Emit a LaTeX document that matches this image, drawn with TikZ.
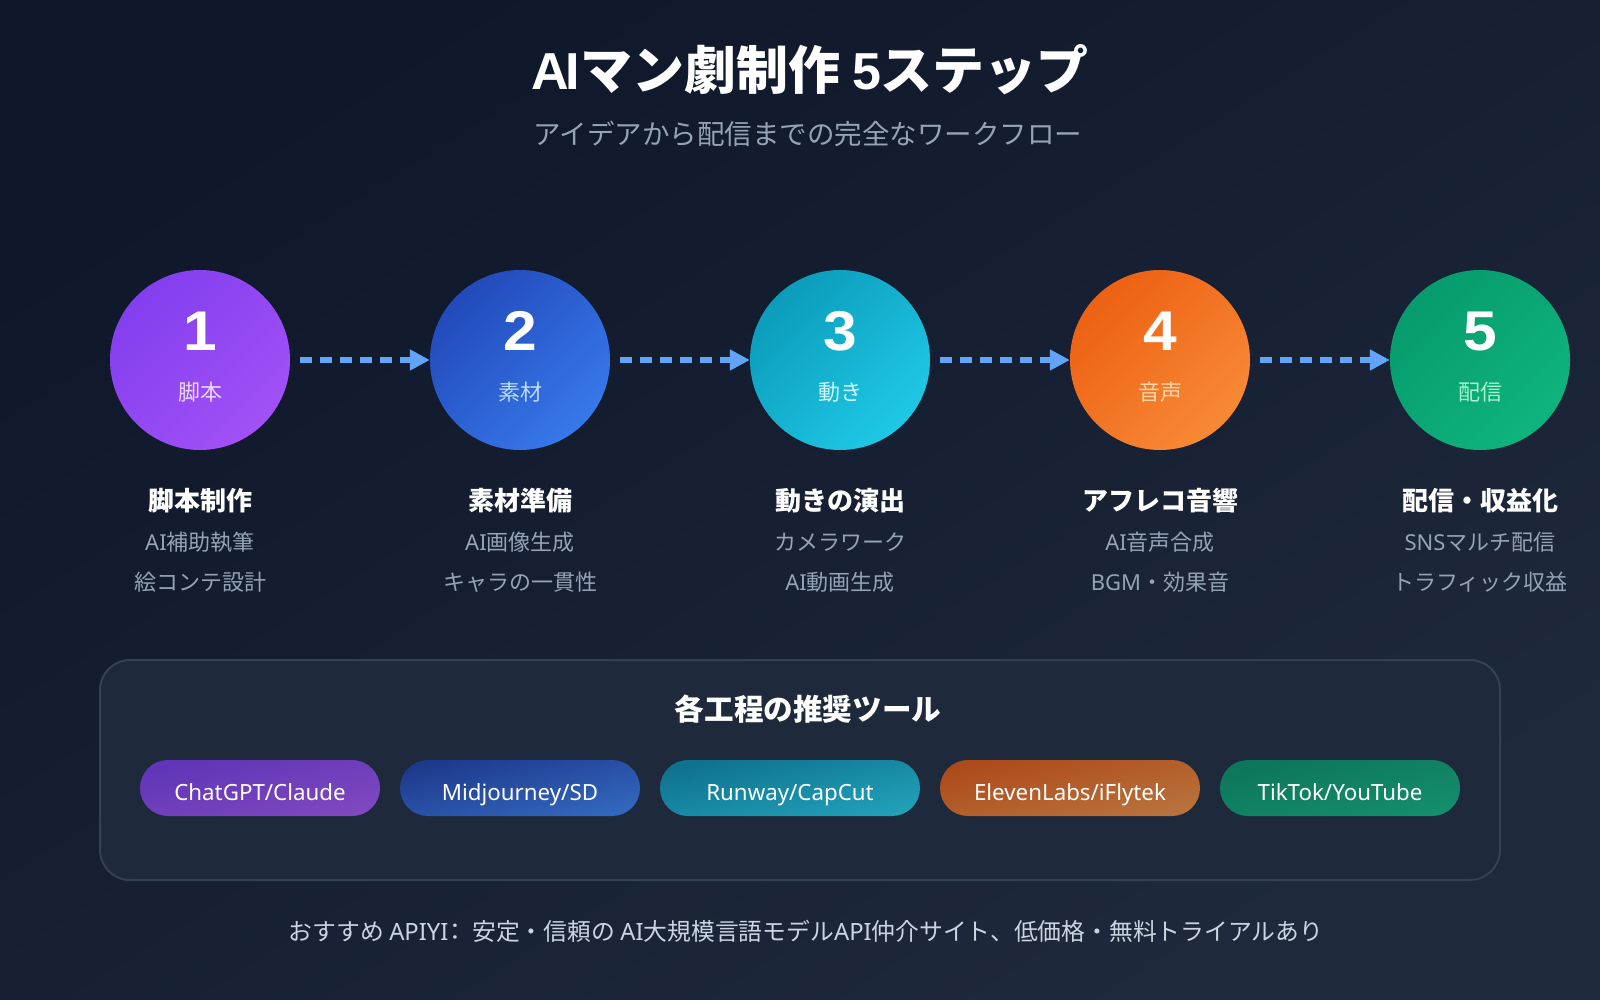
\documentclass[tikz,border=0pt]{standalone}
\usepackage{fontspec}
\setmainfont{Noto Sans CJK JP}
\newfontfamily\lat{Noto Sans}
\newfontfamily\hel{Liberation Sans}
\usetikzlibrary{arrows.meta}
\definecolor{bgA}{HTML}{0F172A}
\definecolor{bgB}{HTML}{1E293B}
\definecolor{cardc}{HTML}{1E293B}
\definecolor{cardl}{HTML}{334155}
\definecolor{subt}{HTML}{94A3B8}
\definecolor{foot}{HTML}{CBD5E1}
\definecolor{arr}{HTML}{60A5FA}
\definecolor{aA}{HTML}{7C3AED}\definecolor{aB}{HTML}{A855F7}\definecolor{aL}{HTML}{E9D5FF}
\definecolor{bA}{HTML}{1E40AF}\definecolor{bB}{HTML}{3B82F6}\definecolor{bL}{HTML}{BFDBFE}
\definecolor{cA}{HTML}{0891B2}\definecolor{cB}{HTML}{22D3EE}\definecolor{cL}{HTML}{CFFAFE}
\definecolor{dA}{HTML}{EA580C}\definecolor{dB}{HTML}{FB923C}\definecolor{dL}{HTML}{FED7AA}
\definecolor{eA}{HTML}{059669}\definecolor{eB}{HTML}{10B981}\definecolor{eL}{HTML}{A7F3D0}
\newcommand{\fs}[1]{\fontsize{#1}{#1}\selectfont}
\newcommand{\wide}[1]{\scalebox{1.08}[1]{#1}}
\tikzset{
  txt/.style={inner sep=0pt,anchor=base},
  stepcircle/.style 2 args={circle,minimum size=180pt,inner sep=0pt,top color=#1!85!#2,bottom color=#2!85!#1,shading angle=45},
  toolpill/.style 2 args={rounded corners=27.9pt,inner sep=0pt,top color=#1!70!cardc,bottom color=#2!70!cardc,shading angle=13},
  flow/.style={draw=arr,line width=6pt,dash pattern=on 12pt off 8pt,shorten <=10pt,-{Triangle[length=20pt,width=20pt]}},
  numtxt/.style={txt,text=white,font=\hel\bfseries\fs{56}},
  lbltxt/.style={txt,font=\fs{22}},
  headtxt/.style={txt,text=white,font=\bfseries\fs{26}},
  subtxt/.style={txt,text=subt,font=\fs{22}},
  pilltxt/.style={txt,text=white,font=\lat\fs{22.3}},
}
\begin{document}
\begin{tikzpicture}[x=1pt,y=-1pt]
\useasboundingbox (0,0) rectangle (1600,1000);
\path[top color=bgA,bottom color=bgB,shading angle=32] (0,0) rectangle (1600,1000);
\node[txt,text=white,font=\bfseries\fs{52}] (title) at (810,90) {{\hel A\kern-3pt I}マン劇制作 {\hel 5}ステップ};
\node[txt,text=subt,font=\fs{27.5}] (subtitle) at (808,145) {アイデアから配信までの完全なワークフロー};
% circles
\node[stepcircle={aA}{aB}] (c1) at (200,360) {};
\node[stepcircle={bA}{bB}] (c2) at (520,360) {};
\node[stepcircle={cA}{cB}] (c3) at (840,360) {};
\node[stepcircle={dA}{dB}] (c4) at (1160,360) {};
\node[stepcircle={eA}{eB}] (c5) at (1480,360) {};
\draw[flow] (c1) -- (c2);
\draw[flow] (c2) -- (c3);
\draw[flow] (c3) -- (c4);
\draw[flow] (c4) -- (c5);
\foreach \n/\x/\num/\lab/\lc/\hd/\sa/\sb in {
 1/200/1/脚本/aL/脚本制作/{{\lat AI}補助執筆}/絵コンテ設計,
 2/520/2/素材/bL/素材準備/{{\lat AI}画像生成}/キャラの一貫性,
 3/840/3/動き/cL/動きの演出/カメラワーク/{{\lat AI}動画生成},
 4/1160/4/音声/dL/アフレコ音響/{{\lat AI}音声合成}/{{\lat BGM}・効果音},
 5/1480/5/配信/eL/配信・収益化/{{\lat SNS}マルチ配信}/トラフィック収益}{
  \node[numtxt] (num\n) at (\x,350) {\wide{\num}};
  \node[lbltxt,text=\lc] (lab\n) at (\x,400) {\lab};
  \node[headtxt] (hd\n) at (\x,510) {\hd};
  \node[subtxt] (sa\n) at (\x,550) {\sa};
  \node[subtxt] (sb\n) at (\x,590) {\sb};
}
% card
\path[fill=cardc,draw=cardl,line width=2pt,rounded corners=30pt] (100,660) rectangle (1500,880);
\node[txt,text=white,font=\bfseries\fs{29.6}] (cardtitle) at (808,720) {各工程の推奨ツール};
\path[toolpill={aA}{aB}] (140,760) rectangle (380,816);
\path[toolpill={bA}{bB}] (400,760) rectangle (640,816);
\path[toolpill={cA}{cB}] (660,760) rectangle (920,816);
\path[toolpill={dA}{dB}] (940,760) rectangle (1200,816);
\path[toolpill={eA}{eB}] (1220,760) rectangle (1460,816);
\node[pilltxt] (p1) at (260,800) {ChatGPT/Claude};
\node[pilltxt] (p2) at (520,800) {Midjourney/SD};
\node[pilltxt] (p3) at (790,800) {Runway/CapCut};
\node[pilltxt] (p4) at (1070,800) {ElevenLabs/iFlytek};
\node[pilltxt] (p5) at (1340,800) {TikTok/YouTube};
\node[txt,text=foot,font=\fs{23.8}] (footer) at (806,940) {おすすめ {\lat APIYI}{\kern-5pt：\kern5pt}安定・信頼の {\lat AI}大規模言語モデル{\lat API}仲介サイト、低価格・無料トライアルあり};
\end{tikzpicture}
\end{document}
